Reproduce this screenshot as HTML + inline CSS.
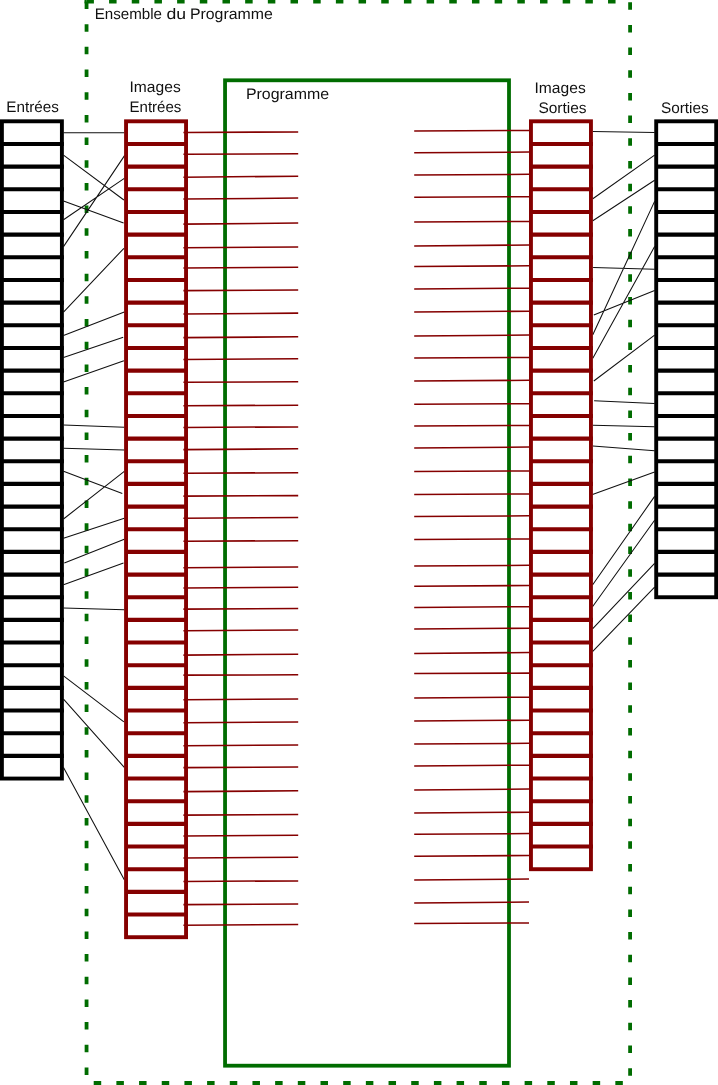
<!DOCTYPE html>
<html lang="fr">
<head>
<meta charset="utf-8">
<title>Ensemble du Programme</title>
<style>
html,body{margin:0;padding:0;background:#fff;}
body{width:718px;height:1085px;overflow:hidden;}
svg{display:block;}
</style>
</head>
<body>
<svg width="718" height="1085" viewBox="0 0 718 1085">
<rect width="718" height="1085" fill="#fff"/>
<g fill="none" stroke="#006c00" stroke-width="3.8"><path d="M86.4 1.5H630.1" stroke-dasharray="7.5 15.18"/><path d="M84.5 1.5H86.5" /><path d="M86.55 1.5V1082.6" stroke-dasharray="7.5 15.18"/><path d="M630.1 2.2V1082.6" stroke-dasharray="7.5 15.18"/><path d="M93.7 1083.2H630.1" stroke-width="4.6" stroke-dasharray="7.5 15.18"/></g>
<rect x="225.05" y="80.3" width="283.95" height="985.4" fill="none" stroke="#006c00" stroke-width="3.8"/>
<path d="M63.5 132.7L124.3 132.7M63.5 155.1L123.9 200.0M63.5 200.9L123.6 222.9M63.5 219.7L124.3 178.4M63.5 246.6L124.7 155.4M63.5 312.1L123.9 248.3M63.5 335.5L124.3 312.1M63.5 357.4L123.2 337.2M63.5 382.0L123.9 360.8M63.5 424.9L124.3 427.3M63.5 448.2L124.3 450.0M63.5 471.2L122.3 493.5M63.5 519.0L124.3 471.3M63.5 538.2L124.3 518.3M64.3 563.1L124.3 539.2M63.5 584.7L123.5 562.9M63.5 608.1L124.3 609.8M63.5 675.9L123.9 721.8M63.5 699.1L124.3 767.4M63.5 767.4L124.3 879.8M592.8 131.4L654.6 132.5M592.8 198.8L654.6 155.1M592.8 220.8L654.6 180.2M592.8 334.7L654.6 201.4M592.8 358.3L654.6 246.6M593.1 267.5L654.6 269.3M593.8 314.9L654.6 290.5M593.8 381.0L654.6 335.1M594.1 400.8L654.6 403.4M592.8 425.2L654.6 426.8M592.8 446.1L654.6 450.7M592.5 494.6L654.6 472.0M592.5 585.0L654.6 496.4M592.5 606.7L654.6 520.3M592.5 628.9L654.6 563.3M592.5 651.7L654.6 587.2" fill="none" stroke="#111" stroke-width="1.05"/>
<rect x="1.90" y="121.30" width="60" height="657.26" fill="none" stroke="#000000" stroke-width="3.9"/>
<path d="M1.90 143.96H63.85M1.90 166.63H63.85M1.90 189.29H63.85M1.90 211.96H63.85M1.90 234.62H63.85M1.90 257.28H63.85M1.90 279.95H63.85M1.90 302.61H63.85M1.90 325.28H63.85M1.90 347.94H63.85M1.90 370.60H63.85M1.90 393.27H63.85M1.90 415.93H63.85M1.90 438.60H63.85M1.90 461.26H63.85M1.90 483.92H63.85M1.90 506.59H63.85M1.90 529.25H63.85M1.90 551.92H63.85M1.90 574.58H63.85M1.90 597.24H63.85M1.90 619.91H63.85M1.90 642.57H63.85M1.90 665.24H63.85M1.90 687.90H63.85M1.90 710.56H63.85M1.90 733.23H63.85M1.90 755.89H63.85" fill="none" stroke="#000000" stroke-width="4.1"/>
<rect x="656.20" y="121.30" width="60" height="475.94" fill="none" stroke="#000000" stroke-width="3.9"/>
<path d="M656.20 143.96H718.15M656.20 166.63H718.15M656.20 189.29H718.15M656.20 211.96H718.15M656.20 234.62H718.15M656.20 257.28H718.15M656.20 279.95H718.15M656.20 302.61H718.15M656.20 325.28H718.15M656.20 347.94H718.15M656.20 370.60H718.15M656.20 393.27H718.15M656.20 415.93H718.15M656.20 438.60H718.15M656.20 461.26H718.15M656.20 483.92H718.15M656.20 506.59H718.15M656.20 529.25H718.15M656.20 551.92H718.15M656.20 574.58H718.15" fill="none" stroke="#000000" stroke-width="4.1"/>
<rect x="126.05" y="121.30" width="60" height="815.90" fill="none" stroke="#850000" stroke-width="3.9"/>
<path d="M126.05 143.96H188.00M126.05 166.63H188.00M126.05 189.29H188.00M126.05 211.96H188.00M126.05 234.62H188.00M126.05 257.28H188.00M126.05 279.95H188.00M126.05 302.61H188.00M126.05 325.28H188.00M126.05 347.94H188.00M126.05 370.60H188.00M126.05 393.27H188.00M126.05 415.93H188.00M126.05 438.60H188.00M126.05 461.26H188.00M126.05 483.92H188.00M126.05 506.59H188.00M126.05 529.25H188.00M126.05 551.92H188.00M126.05 574.58H188.00M126.05 597.24H188.00M126.05 619.91H188.00M126.05 642.57H188.00M126.05 665.24H188.00M126.05 687.90H188.00M126.05 710.56H188.00M126.05 733.23H188.00M126.05 755.89H188.00M126.05 778.56H188.00M126.05 801.22H188.00M126.05 823.88H188.00M126.05 846.55H188.00M126.05 869.21H188.00M126.05 891.88H188.00M126.05 914.54H188.00" fill="none" stroke="#850000" stroke-width="4.1"/>
<rect x="530.95" y="121.30" width="60" height="747.91" fill="none" stroke="#850000" stroke-width="3.9"/>
<path d="M530.95 143.96H592.90M530.95 166.63H592.90M530.95 189.29H592.90M530.95 211.96H592.90M530.95 234.62H592.90M530.95 257.28H592.90M530.95 279.95H592.90M530.95 302.61H592.90M530.95 325.28H592.90M530.95 347.94H592.90M530.95 370.60H592.90M530.95 393.27H592.90M530.95 415.93H592.90M530.95 438.60H592.90M530.95 461.26H592.90M530.95 483.92H592.90M530.95 506.59H592.90M530.95 529.25H592.90M530.95 551.92H592.90M530.95 574.58H592.90M530.95 597.24H592.90M530.95 619.91H592.90M530.95 642.57H592.90M530.95 665.24H592.90M530.95 687.90H592.90M530.95 710.56H592.90M530.95 733.23H592.90M530.95 755.89H592.90M530.95 778.56H592.90M530.95 801.22H592.90M530.95 823.88H592.90M530.95 846.55H592.90" fill="none" stroke="#850000" stroke-width="4.1"/>
<path d="M183.4 132.52L298.2 131.90M183.4 154.32L298.2 153.80M183.4 177.24L298.2 176.20M183.4 198.93L298.2 198.10M183.4 224.14L298.2 223.10M183.4 247.73L298.2 246.90M183.4 267.92L298.2 267.30M183.4 290.63L298.2 289.90M183.4 313.93L298.2 313.10M183.4 337.63L298.2 336.80M183.4 359.43L298.2 358.70M183.4 382.32L298.2 381.80M183.4 405.72L298.2 405.20M183.4 427.42L298.2 426.90M183.4 449.63L298.2 448.80M183.4 473.22L298.2 472.70M183.4 496.12L298.2 495.60M183.4 518.23L298.2 517.50M183.4 541.22L298.2 540.70M183.4 567.83L298.2 567.00M183.4 588.03L298.2 587.20M183.4 609.13L298.2 608.40M183.4 630.83L298.2 629.90M183.4 655.13L298.2 654.20M183.4 675.11L298.2 674.80M183.4 699.73L298.2 698.90M183.4 722.83L298.2 721.90M183.4 745.73L298.2 745.00M183.4 767.63L298.2 766.90M183.4 791.63L298.2 790.80M183.4 815.13L298.2 814.40M183.4 835.92L298.2 835.30M183.4 858.03L298.2 857.30M183.4 881.42L298.2 880.90M183.4 904.62L298.2 904.00M183.4 925.23L298.2 924.50M414.2 131.00L529.0 130.50M414.2 152.80L529.0 152.10M414.2 175.00L529.0 174.30M414.2 197.20L529.0 196.70M414.2 222.00L529.0 221.50M414.2 245.90L529.0 245.00M414.2 266.40L529.0 265.80M414.2 289.00L529.0 288.20M414.2 312.10L529.0 311.20M414.2 336.00L529.0 335.10M414.2 358.00L529.0 357.40M414.2 380.90L529.0 380.30M414.2 404.30L529.0 403.70M414.2 425.90L529.0 425.40M414.2 448.00L529.0 447.00M414.2 471.50L529.0 471.00M414.2 494.40L529.0 493.90M414.2 516.50L529.0 515.80M414.2 539.50L529.0 539.00M414.2 566.10L529.0 565.30M414.2 586.30L529.0 585.50M414.2 607.40L529.0 606.70M414.2 629.10L529.0 628.20M414.2 653.40L529.0 652.50M414.2 673.40L529.0 673.10M414.2 698.00L529.0 697.20M414.2 721.10L529.0 720.20M414.2 744.00L529.0 743.30M414.2 765.90L529.0 765.20M414.2 789.90L529.0 789.10M414.2 813.10L529.0 812.20M414.2 834.30L529.0 833.60M414.2 856.30L529.0 855.50M414.2 879.90L529.0 879.10M414.2 903.00L529.0 902.10M414.2 923.50L529.0 923.00" fill="none" stroke="#850000" stroke-width="1.55"/>
<g font-family="'Liberation Sans', Arial, sans-serif" font-size="15.3" fill="#111" text-rendering="geometricPrecision"><text x="94.7" y="19" textLength="67.3" lengthAdjust="spacingAndGlyphs">Ensemble</text><text x="166.5" y="19" textLength="19.6" lengthAdjust="spacingAndGlyphs">du</text><text x="189.9" y="19" textLength="82.9" lengthAdjust="spacingAndGlyphs">Programme</text><text x="245.9" y="99" textLength="83.2" lengthAdjust="spacingAndGlyphs">Programme</text><text x="6.3" y="112" textLength="52.5" lengthAdjust="spacingAndGlyphs">Entrées</text><text x="129.5" y="92" textLength="51.2" lengthAdjust="spacingAndGlyphs">Images</text><text x="129.5" y="112" textLength="51.8" lengthAdjust="spacingAndGlyphs">Entrées</text><text x="534.5" y="93" textLength="51.2" lengthAdjust="spacingAndGlyphs">Images</text><text x="538.4" y="113" textLength="48.2" lengthAdjust="spacingAndGlyphs">Sorties</text><text x="660.9" y="113" textLength="47.8" lengthAdjust="spacingAndGlyphs">Sorties</text></g>
</svg>
</body>
</html>
